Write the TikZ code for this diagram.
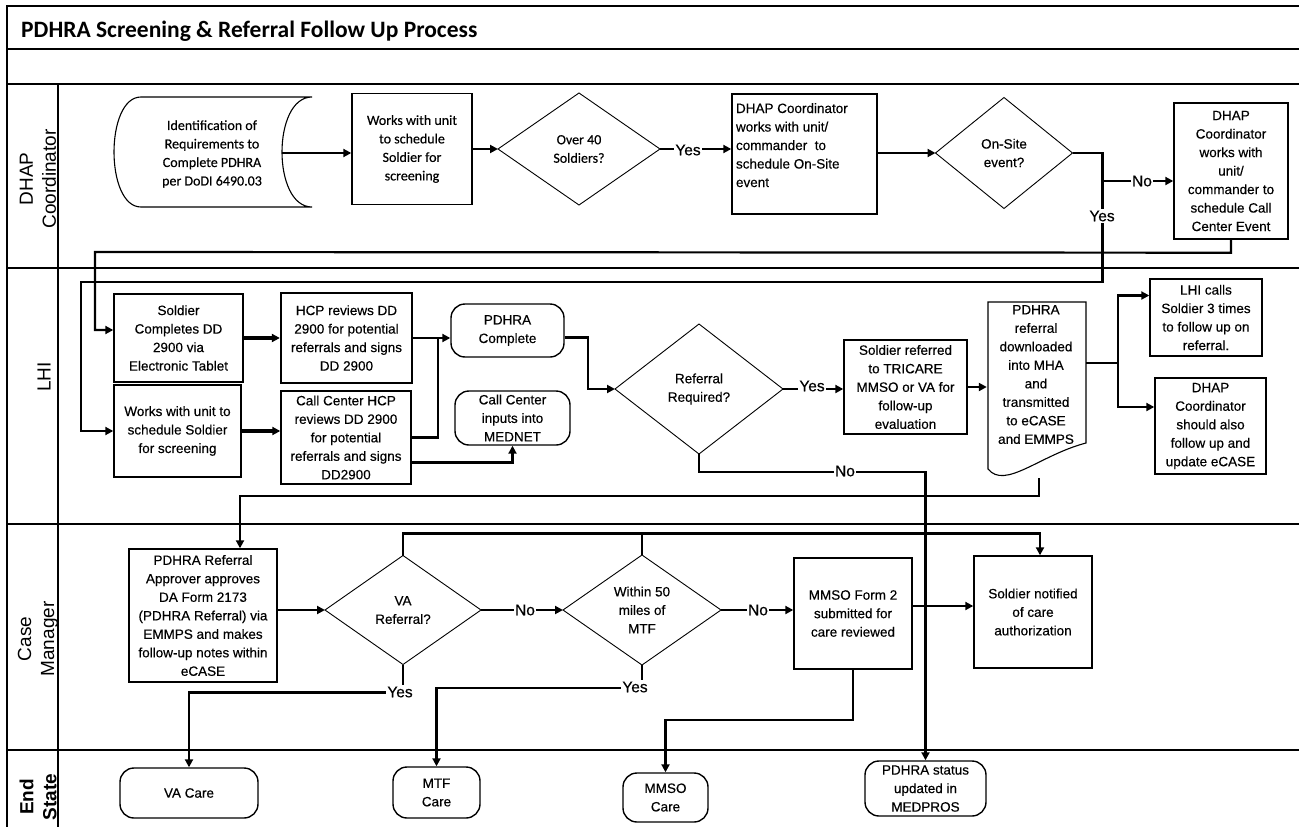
\documentclass[tikz,border=0pt]{standalone}
\usepackage{fontspec}
\setmainfont{Liberation Sans}
\newfontfamily\carlito{Carlito}
\newfontfamily\carlitoheavy[FakeBold=0.35]{Carlito}
\newfontfamily\arialheavy[FakeBold=0.35]{Liberation Sans}
\usetikzlibrary{arrows.meta,shapes.geometric,calc}

\newcommand\boxfont{\arialheavy\fontsize{13.5}{18.5}\selectfont}
\newcommand\calfont{\carlitoheavy\fontsize{14}{18.5}\selectfont}
\newcommand\lblfont{\arialheavy\fontsize{15.5}{17}\selectfont}
\newcommand\lanefont{\fontsize{19}{23}\selectfont}

\begin{document}
\begin{tikzpicture}[x=1pt,y=-1pt,
  box/.style={draw, line width=1.4pt, align=center, inner sep=2pt, font=\boxfont},
  term/.style={box, rounded corners=14pt},
  dec/.style={diamond, draw, line width=0.9pt, align=center, inner sep=0pt, outer sep=0pt, font=\boxfont},
  conn/.style={line width=2.2pt, -{Triangle[length=8pt,width=8pt]}},
  wire/.style={line width=2.2pt},
  lbl/.style={fill=white, inner sep=1.5pt, font=\lblfont},
  lane/.style={rotate=90, align=center, inner sep=0pt, font=\lanefont},
  frame/.style={line width=1.2pt}]
\useasboundingbox (0,0) rectangle (1299,827);
\fill[white] (0,0) rectangle (1299,827);

% ---- swimlane frame ----
\draw[line width=1.6pt] (1299,6) -- (7,6) -- (7,827);
\draw[line width=1.6pt] (7,49) -- (1299,49);
\draw[line width=1.6pt] (7,84) -- (1299,84);
\draw[frame] (7,268) -- (1299,268);
\draw[frame] (7,524) -- (1299,524);
\draw[frame] (7,750) -- (1299,750);
\draw[line width=1.6pt] (58,84) -- (58,827);

\node[anchor=base west, inner sep=0pt, font=\carlito\bfseries\fontsize{23.5}{28}\selectfont] (title) at (21,37) {PDHRA Screening \& Referral Follow Up Process};

\node[lane] (laneD) at (38,179) {DHAP\\Coordinator};
\node[lane] (laneL) at (44,377) {LHI};
\node[lane] (laneC) at (38,639) {Case\\Manager};
\node[lane, font=\lanefont\bfseries] (laneE) at (38,797) {End\\State};

% ---- DHAP Coordinator lane ----
\draw[line width=1.1pt] (141,97) -- (312,97) .. controls (272,97) and (272,207) .. (312,207)
  -- (141,207) .. controls (105,207) and (105,97) .. (141,97);
\node[align=center, font=\calfont] (ident) at (212,154) {Identification of\\Requirements to\\Complete PDHRA\\per DoDI 6490.03};
\coordinate (identR) at (282,153);

\node[box, font=\calfont, minimum width=120pt, minimum height=111pt] (works) at (412,149) {Works with unit\\to schedule\\Soldier for\\screening};
\node[dec, font=\calfont, minimum width=162pt, minimum height=112pt] (over40) at (579,149) {Over 40\\Soldiers?};
\node[box, inner sep=0pt, minimum width=145pt, minimum height=120pt] (onsite) at (804.5,154)
  {\parbox[c][112pt][t]{137pt}{\raggedright\rule{0pt}{15pt}DHAP Coordinator\\works with unit/\\commander\ \ to\\schedule On-Site\\event}};
\node[dec, minimum width=137pt, minimum height=111pt] (onsiteQ) at (1004,153) {On-Site\\event?};
\node[box, minimum width=114pt, minimum height=136pt] (callc) at (1231,171) {DHAP\\Coordinator\\works with\\unit/\\commander to\\schedule Call\\Center Event};

% ---- LHI lane ----
\node[box, minimum width=129pt, minimum height=88pt] (soldier) at (178.5,338) {Soldier\\Completes DD\\2900 via\\Electronic Tablet};
\node[box, minimum width=127pt, minimum height=92pt] (schedule) at (177.5,431) {Works with unit to\\schedule Soldier\\for screening};
\node[box, line width=2.3pt, minimum width=131pt, minimum height=90pt] (hcp) at (346.5,338) {HCP reviews DD\\2900 for potential\\referrals and signs\\DD 2900};
\node[box, minimum width=130pt, minimum height=93pt] (cchcp) at (346,437.5) {Call Center HCP\\reviews DD 2900\\for potential\\referrals and signs\\DD2900};
\node[term, minimum width=113pt, minimum height=53pt] (pdhraC) at (507.5,330.5) {PDHRA\\Complete};
\node[term, minimum width=115pt, minimum height=54pt] (mednet) at (512.5,418) {Call Center\\inputs into\\MEDNET};
\node[dec, minimum width=168pt, minimum height=130pt] (refQ) at (699,389) {Referral\\Required?};
\node[box, minimum width=123pt, minimum height=94pt] (referred) at (905.5,387) {Soldier referred\\to TRICARE\\MMSO or VA for\\follow-up\\evaluation};
\draw[line width=1.1pt] (988,469) -- (988,302) -- (1086,302) -- (1086,443)
  .. controls (1040,455) and (1005,490) .. (988,469);
\node[align=center, inner sep=0pt, minimum width=98pt, minimum height=145pt, font=\boxfont] (doc) at (1036,374.5) {PDHRA\\referral\\downloaded\\into MHA\\and\\transmitted\\to eCASE\\and EMMPS};
\node[box, minimum width=112pt, minimum height=77pt] (lhicalls) at (1206,317.5) {LHI calls\\Soldier 3 times\\to follow up on\\referral.};
\node[box, minimum width=111pt, minimum height=96pt] (dhapfu) at (1210.5,426) {DHAP\\Coordinator\\should also\\follow up and\\update eCASE};

% ---- Case Manager lane ----
\node[box, minimum width=148pt, minimum height=133pt] (approve) at (203,615.5) {PDHRA Referral\\Approver approves\\DA Form 2173\\(PDHRA Referral) via\\EMMPS and makes\\follow-up notes within\\eCASE};
\node[dec, minimum width=156pt, minimum height=109pt] (vaQ) at (403,610) {VA\\Referral?};
\node[dec, minimum width=158pt, minimum height=110pt] (withinQ) at (642,610) {Within 50\\miles of\\MTF};
\node[box, minimum width=118pt, minimum height=111pt] (mmso) at (853,613.5) {MMSO Form 2\\submitted for\\care reviewed};
\node[box, minimum width=118pt, minimum height=112pt] (notified) at (1033,612) {Soldier notified\\of care\\authorization};

% ---- End State lane ----
\node[term, minimum width=138pt, minimum height=50pt] (vaCare) at (189,793) {VA Care};
\node[term, minimum width=87pt, minimum height=51pt] (mtfCare) at (436.5,792.5) {MTF\\Care};
\node[term, minimum width=85pt, minimum height=49pt] (mmsoCare) at (665.5,797.5) {MMSO\\Care};
\node[term, minimum width=121pt, minimum height=55pt] (medpros) at (925.5,788.5) {PDHRA status\\updated in\\MEDPROS};

% ---- connectors: DHAP Coordinator ----
\draw[conn] (identR) -- (identR -| works.west);
\draw[conn] (works.east) -- (over40.west);
\draw[conn] (over40.east) -- (over40.east -| onsite.west);
\draw[conn] (onsite.east |- onsiteQ.west) -- (onsiteQ.west);
\draw[conn] (onsiteQ.east) -- ++(30,0) |- (81,282) |- (schedule.west);
\coordinate (jNo) at (1103,181);
\draw[conn] (jNo) -- (jNo -| callc.west);
\coordinate (soldierIn) at ([yshift=8pt]soldier.west);
\draw[conn] (callc.south) -- ++(0,13) -- (95,252) |- (soldierIn);

% ---- connectors: LHI ----
\draw[conn, line width=3.6pt] (soldier.east) -- (hcp.west);
\draw[conn, line width=3.6pt] (schedule.east) -- (schedule.east -| cchcp.west);
\draw[conn] (hcp.east) -- (hcp.east -| pdhraC.west);
\coordinate (merge) at (438,338);
\draw[wire] (cchcp.east) -| (merge);
\draw[conn] ([yshift=-25pt]cchcp.east) -| (mednet.south);
\draw[conn] ([yshift=-7pt]pdhraC.east) -- ++(23,0) |- (refQ.west);
\draw[conn] (refQ.east) -- (refQ.east -| referred.west);
\draw[conn] (referred.east) -- (referred.east -| doc.west);
\coordinate (docOut) at (1086,363);
\coordinate (split) at (1118,363);
\draw[wire] (docOut) -- (split);
\draw[conn] (split) |- ([yshift=22pt]lhicalls.west);
\draw[conn] (split) |- ([yshift=19pt]dhapfu.west);
\coordinate (docBot) at (1039,478);
\coordinate (apIn) at ([xshift=37pt]approve.north);
\draw[conn] (docBot) -- ++(0,18) -| (apIn);
\draw[conn] (refQ.south) -- ++(0,18) -| (medpros.north);

% ---- connectors: Case Manager ----
\draw[conn] (approve.east |- vaQ.west) -- (vaQ.west);
\draw[conn] (vaQ.east) -- (withinQ.west);
\draw[conn] (withinQ.east) -- (withinQ.east -| mmso.west);
\coordinate (ntIn) at ([yshift=6pt]notified.west);
\draw[conn] (mmso.east |- ntIn) -- (ntIn);
\coordinate (cmTop) at ([yshift=22pt]vaQ.north);
\coordinate (ntTop) at ([xshift=7pt]notified.north);
\draw[conn] (vaQ.north) -- (cmTop) -| (ntTop);
\draw[wire] (withinQ.north) -- (withinQ.north |- cmTop);
\coordinate (vaYes) at ([yshift=-28pt]vaQ.south);
\draw[conn] (vaQ.south) -- (vaYes) -| (vaCare.north);
\coordinate (mtfYes) at ([yshift=-23pt]withinQ.south);
\draw[conn] (withinQ.south) -- (mtfYes) -| (mtfCare.north);
\draw[conn] (mmso.south) -- ++(0,50) -| (mmsoCare.north);

% ---- branch labels ----
\node[lbl] (l1) at (688,150) {Yes};
\node[lbl] (l2) at (1102,216) {Yes};
\node[lbl] (l3) at (1142,181) {No};
\node[lbl] (l4) at (812,386) {Yes};
\node[lbl] (l5) at (845,471) {No};
\node[lbl] (l6) at (525,610) {No};
\node[lbl] (l7) at (758,610) {No};
\node[lbl] (l8) at (400,692) {Yes};
\node[lbl] (l9) at (635,687) {Yes};
\end{tikzpicture}
\end{document}
